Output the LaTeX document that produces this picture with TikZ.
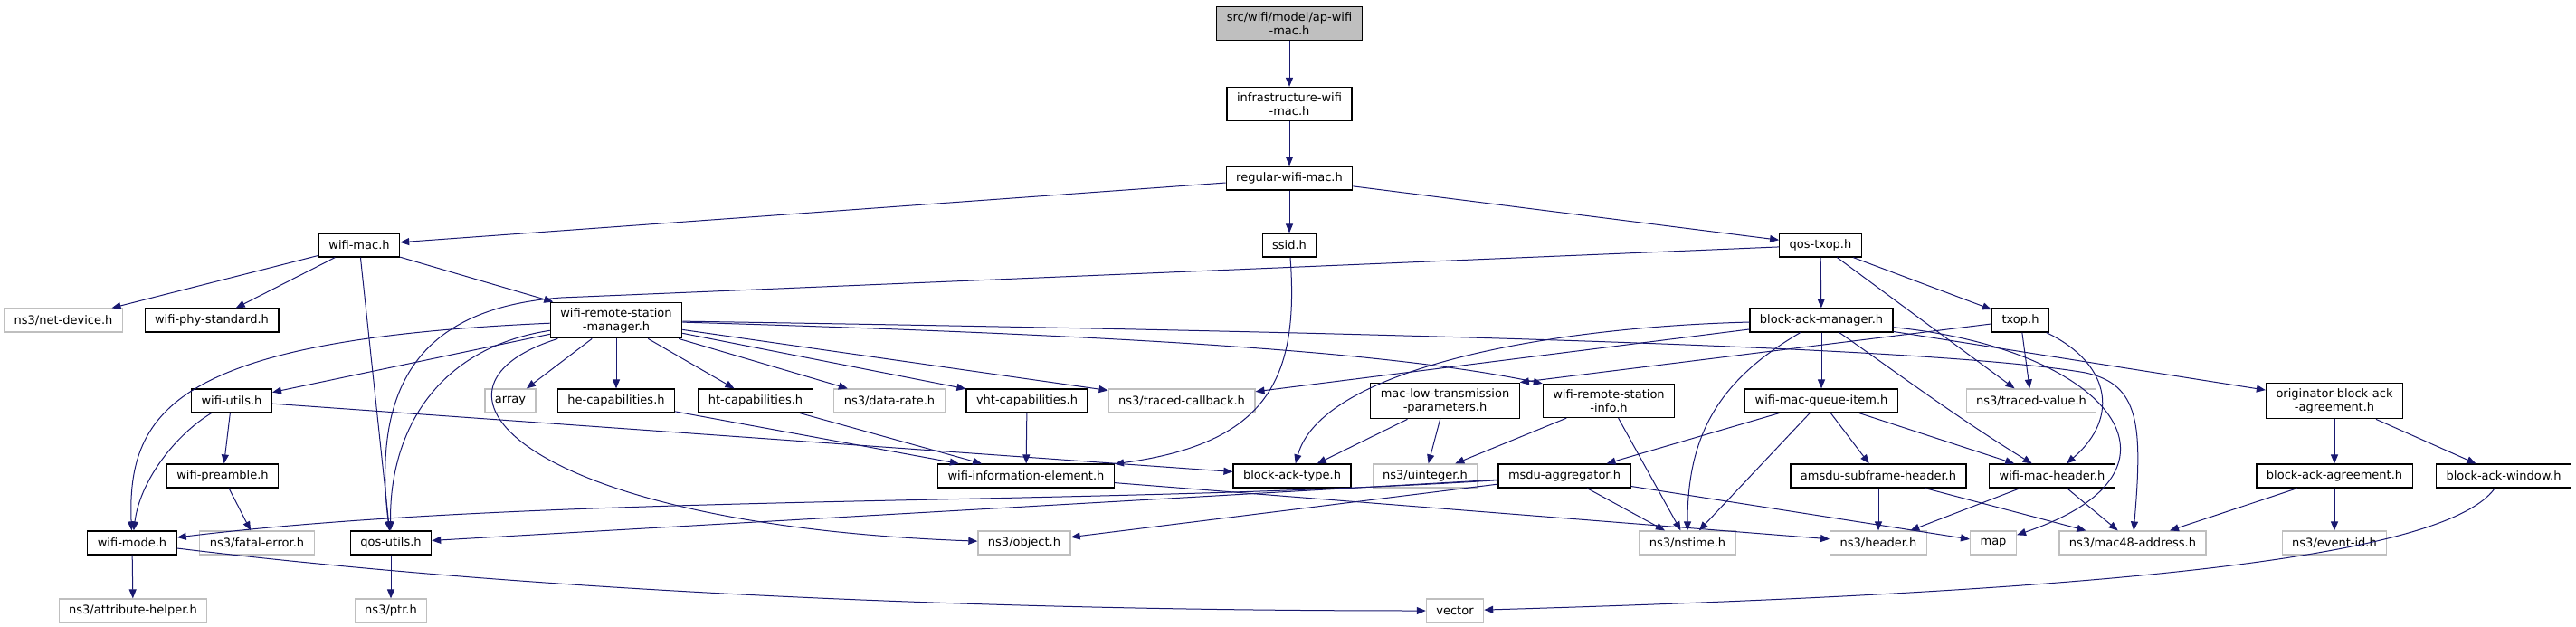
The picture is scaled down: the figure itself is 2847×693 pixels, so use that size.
\documentclass[tikz,border=0pt]{standalone}
\usepackage{fontspec}
\setmainfont{DejaVu Sans}
\usetikzlibrary{arrows.meta}
\definecolor{edgeblue}{RGB}{25,25,112}
\definecolor{extgray}{RGB}{191,191,191}

\begin{document}
\begin{tikzpicture}[x=1pt,y=-1pt,
  file/.style={draw=black,line width=1.2pt,fill=white,font=\fontsize{13}{15}\selectfont,
    align=center,inner xsep=11pt,inner ysep=6pt,minimum height=26pt},
  extfile/.style={file,draw=extgray},
  rootfile/.style={file,fill=extgray},
  dep/.style={edgeblue,line width=1pt,-{Triangle[length=10pt,width=8pt]}}]
  \useasboundingbox (0,0) rectangle (2847,693);

  % top of the graph
  \node[rootfile] (root) at (1425,26) {src/wifi/model/ap-wifi\\-mac.h};
  \node[file] (infra) at (1425,115) {infrastructure-wifi\\-mac.h};
  \node[file] (regular) at (1425,197) {regular-wifi-mac.h};
  \node[file] (wifimac) at (397,271) {wifi-mac.h};
  \node[file] (ssid) at (1425,271) {ssid.h};
  \node[file] (qostxop) at (2012,271) {qos-txop.h};

  % second row
  \node[extfile] (netdevice) at (70,354) {ns3/net-device.h};
  \node[file] (phystd) at (234,354) {wifi-phy-standard.h};
  \node[file] (wrsm) at (681,354) {wifi-remote-station\\-manager.h};
  \node[file] (bam) at (2013,354) {block-ack-manager.h};
  \node[file] (txop) at (2233,354) {txop.h};

  % third row
  \node[file] (wifiutils) at (256,443) {wifi-utils.h};
  \node[extfile] (array) at (564,443) {array};
  \node[file] (hecap) at (681,443) {he-capabilities.h};
  \node[file] (htcap) at (835,443) {ht-capabilities.h};
  \node[extfile] (datarate) at (983,443) {ns3/data-rate.h};
  \node[file] (vhtcap) at (1135,443) {vht-capabilities.h};
  \node[extfile] (tracedcb) at (1306,443) {ns3/traced-callback.h};
  \node[file] (mltp) at (1597,443) {mac-low-transmission\\-parameters.h};
  \node[file] (wrsi) at (1778,443) {wifi-remote-station\\-info.h};
  \node[file] (wmqi) at (2013,443) {wifi-mac-queue-item.h};
  \node[extfile] (tracedval) at (2245,443) {ns3/traced-value.h};
  \node[file] (oba) at (2580,443) {originator-block-ack\\-agreement.h};

  % fourth row
  \node[file] (preamble) at (246,526) {wifi-preamble.h};
  \node[file] (wie) at (1134,526) {wifi-information-element.h};
  \node[file] (bat) at (1428,526) {block-ack-type.h};
  \node[extfile] (uinteger) at (1575,526) {ns3/uinteger.h};
  \node[file] (msdu) at (1729,526) {msdu-aggregator.h};
  \node[file] (amsdu) at (2076,526) {amsdu-subframe-header.h};
  \node[file] (wmh) at (2268,526) {wifi-mac-header.h};
  \node[file] (baa) at (2580,526) {block-ack-agreement.h};
  \node[file] (baw) at (2767,526) {block-ack-window.h};

  % fifth row
  \node[file] (wifimode) at (146,600) {wifi-mode.h};
  \node[extfile] (fatalerr) at (284,600) {ns3/fatal-error.h};
  \node[file] (qosutils) at (432,600) {qos-utils.h};
  \node[extfile] (object) at (1132,600) {ns3/object.h};
  \node[extfile] (nstime) at (1865,600) {ns3/nstime.h};
  \node[extfile] (header) at (2076,600) {ns3/header.h};
  \node[extfile] (map) at (2203,600) {map};
  \node[extfile] (mac48) at (2357,600) {ns3/mac48-address.h};
  \node[extfile] (eventid) at (2580,600) {ns3/event-id.h};

  % bottom row
  \node[extfile] (attrhelper) at (147,675) {ns3/attribute-helper.h};
  \node[extfile] (ptr) at (432,675) {ns3/ptr.h};
  \node[extfile] (vector) at (1608,675) {vector};

  % straight includes
  \foreach \a/\b in {root/infra, infra/regular, regular/wifimac, regular/ssid, regular/qostxop,
      wifimac/netdevice, wifimac/phystd, wifimac/wrsm, wifimac/qosutils,
      qostxop/bam, qostxop/txop, qostxop/tracedval,
      wrsm/wifiutils, wrsm/array, wrsm/hecap, wrsm/htcap, wrsm/datarate, wrsm/vhtcap,
      wrsm/tracedcb, bam/tracedcb, bam/wmqi, bam/oba, txop/tracedval,
      wifiutils/preamble, wifiutils/bat, hecap/wie, htcap/wie, vhtcap/wie,
      mltp/bat, mltp/uinteger, wrsi/uinteger, wrsi/nstime,
      wmqi/msdu, wmqi/nstime, wmqi/amsdu, wmqi/wmh, oba/baa, oba/baw,
      preamble/fatalerr, wie/header, msdu/qosutils, msdu/object, msdu/nstime, msdu/map,
      amsdu/header, amsdu/mac48, wmh/header, wmh/mac48, baa/mac48, baa/eventid,
      wifimode/attrhelper, qosutils/ptr}
    \draw[dep] (\a) -- (\b);
  \draw[dep] (txop) -- (mltp.north east);

  % curved includes
  \draw[dep] (ssid) .. controls (1436,420) and (1400,490) .. (wie);
  \draw[dep] (qostxop) -- (620,329) .. controls (470,340) and (410,420) .. (qosutils);
  \draw[dep] (wrsm) .. controls (200,375) and (140,450) .. (wifimode);
  \draw[dep] (wrsm) .. controls (480,385) and (430,480) .. (qosutils);
  \draw[dep] (wrsm) .. controls (440,430) and (580,580) .. (object);
  \draw[dep] (wrsm) .. controls (1300,372) and (1550,392) .. (wrsi.north west);
  \draw[dep] (wrsm) .. controls (1600,368) and (2150,385) .. (2305,412)
    .. controls (2365,425) and (2368,470) .. (mac48);
  \draw[dep] (wifiutils) .. controls (195,480) and (155,530) .. (wifimode);
  \draw[dep] (bam) .. controls (1700,362) and (1460,410) .. (bat);
  \draw[dep] (bam) .. controls (1900,420) and (1865,480) .. (nstime);
  \draw[dep] (bam) .. controls (2080,400) and (2160,460) .. (wmh);
  \draw[dep] (bam) .. controls (2330,385) and (2440,520) .. (map);
  \draw[dep] (txop) .. controls (2330,400) and (2345,460) .. (wmh);
  \draw[dep] (msdu) .. controls (1200,560) and (600,545) .. (wifimode);
  \draw[dep] (wifimode) .. controls (600,655) and (1100,675) .. (vector);
  \draw[dep] (baw) .. controls (2700,620) and (2300,655) .. (vector);
\end{tikzpicture}
\end{document}
